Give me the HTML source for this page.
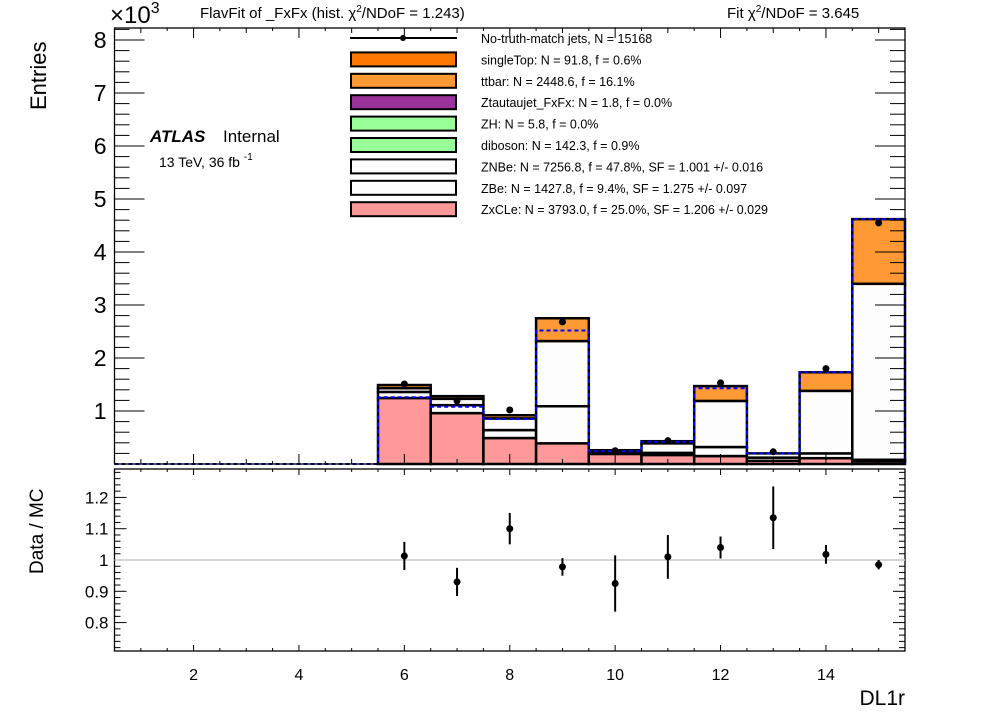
<!DOCTYPE html>
<html><head><meta charset="utf-8"><style>
body{margin:0;background:#fff;}
svg{display:block;font-family:"Liberation Sans",sans-serif;}
</style></head><body>
<svg id="c" width="996" height="722" viewBox="0 0 996 722"></svg>
<script>
const binCenters=[6,7,8,9,10,11,12,13,14,15];
const zxcle=[1245,960,490,390,190,170,150,60,110,50];
const zbe=[115,150,150,700,20,40,170,60,90,30];
const znbe=[70,120,220,1230,30,180,870,80,1180,3320];
const ttbar=[60,50,60,430,20,40,280,0,350,1220];
const prefit=[1260,1080,850,2520,240,420,1430,200,1730,4620];
const dataVals=[1510,1190,1020,2680,250,440,1530,230,1800,4550];
const ratioVals=[1.013,0.93,1.10,0.978,0.925,1.01,1.04,1.135,1.018,0.985];
const ratioErr=[0.045,0.045,0.05,0.028,0.09,0.07,0.035,0.1,0.03,0.015];
const mainTicks=[1,2,3,4,5,6,7,8];
const ratioTicks=[0.8,0.9,1,1.1,1.2];
const xTicks=[2,4,6,8,10,12,14];
const legendLabels=["No-truth-match jets, N = 15168","singleTop: N = 91.8, f = 0.6%","ttbar: N = 2448.6, f = 16.1%","Ztautaujet_FxFx: N = 1.8, f = 0.0%","ZH: N = 5.8, f = 0.0%","diboson: N = 142.3, f = 0.9%","ZNBe: N = 7256.8, f = 47.8%, SF = 1.001 +/- 0.016","ZBe: N = 1427.8, f = 9.4%, SF = 1.275 +/- 0.097","ZxCLe: N = 3793.0, f = 25.0%, SF = 1.206 +/- 0.029"];
const legendColors=[null,"#ff7700","#ff9933","#993399","#99ff99","#99ff99","#fdfdfd","#fdfdfd","#ff9999"];

const NS="http://www.w3.org/2000/svg";
const svg=document.getElementById('c');
const L=114.5,R=905,MT=28,MB=464,RT=469,RB=651;
const X=v=>L+(v-0.5)*(R-L)/15;
const Y=v=>MB-v*53/1000;
const YR=v=>560-(v-1)*313;
function el(t,a,p){const e=document.createElementNS(NS,t);for(const k in a)e.setAttribute(k,a[k]);(p||svg).appendChild(e);return e;}
function tx(x,y,s,o){const e=el('text',Object.assign({x:x,y:y},o||{}));e.textContent=s;return e;}

// stacked histograms
const gH=el('g',{});


const comps=[[zxcle,"#ff9999","zxcle"],[zbe,"#fdfdfd","zbe"],[znbe,"#fdfdfd","znbe"],[ttbar,"#ff9933","ttbar"]];
binCenters.forEach((c,i)=>{
  let base=0;
  comps.forEach(([arr,col,nm])=>{
    const top=base+arr[i];
    const r=el('rect',{x:X(c-0.5),y:Y(top),width:X(c+0.5)-X(c-0.5),height:Y(base)-Y(top),fill:col,stroke:'#000','stroke-width':2.5},gH);
    
    
    base=top;
  });
});
// prefit dashed outline
let d='M'+X(0.5)+' '+MB+' L'+X(5.5)+' '+MB;
binCenters.forEach((c,i)=>{d+=' L'+X(c-0.5)+' '+Y(prefit[i])+' L'+X(c+0.5)+' '+Y(prefit[i]);});
d+=' L'+X(15.5)+' '+MB;
const pf=el('path',{d:d,fill:'none',stroke:'#0000ff','stroke-width':2,'stroke-dasharray':'4,3'});


// data points
binCenters.forEach((c,i)=>{
  const p=el('circle',{cx:X(c),cy:Y(dataVals[i]),r:3.5,fill:'#000'});
  
  
});
// frames
el('rect',{x:L,y:MT,width:R-L,height:MB-MT,fill:'none',stroke:'#000','stroke-width':1.3});
el('rect',{x:L,y:RT,width:R-L,height:RB-RT,fill:'none',stroke:'#000','stroke-width':1.3});
// main y ticks
for(let v=200;v<=8200;v+=200){const maj=v%1000===0;const len=maj?30:15;
  el('line',{x1:L,x2:L+len,y1:Y(v),y2:Y(v),stroke:'#000'});
  el('line',{x1:R,x2:R-len,y1:Y(v),y2:Y(v),stroke:'#000'});}
mainTicks.forEach(v=>{const t=tx(L-8,Y(v*1000)+8,String(v),{'font-size':23,'text-anchor':'end'});});
// x ticks both panels
for(let v=1;v<=15.01;v+=0.5){const maj=Number.isInteger(v/2)&&v%2===0;const lenM=maj?10:(Number.isInteger(v)?5:3);
  const lenR=maj?6:3;
  el('line',{x1:X(v),x2:X(v),y1:MB,y2:MB-lenM,stroke:'#000'});
  el('line',{x1:X(v),x2:X(v),y1:MT,y2:MT+lenM,stroke:'#000'});
  el('line',{x1:X(v),x2:X(v),y1:RB,y2:RB-lenR,stroke:'#000'});
  el('line',{x1:X(v),x2:X(v),y1:RT,y2:RT+lenR,stroke:'#000'});}
xTicks.forEach(v=>{const t=tx(X(v),680,String(v),{'font-size':16,'text-anchor':'middle'});});
// ratio ticks
for(let k=0;k<=11;k++){const v=0.72+k*0.05;const vv=Math.round(v*100)/100;}
for(let v=0.72;v<=1.29;v+=0.02){const vv=Math.round(v*100)/100;const maj=Math.abs(vv*10-Math.round(vv*10))<1e-6;const len=maj?12:6;
  el('line',{x1:L,x2:L+len,y1:YR(vv),y2:YR(vv),stroke:'#000'});
  el('line',{x1:R,x2:R-len,y1:YR(vv),y2:YR(vv),stroke:'#000'});}
ratioTicks.forEach(v=>{const t=tx(L-6,YR(v)+6,String(v),{'font-size':17,'text-anchor':'end'});});
const ul=el('line',{x1:L,x2:R,y1:YR(1),y2:YR(1),stroke:'#c8c8c8','stroke-width':1.5});


binCenters.forEach((c,i)=>{
  const e=el('line',{x1:X(c),x2:X(c),y1:YR(ratioVals[i]+ratioErr[i]),y2:YR(ratioVals[i]-ratioErr[i]),stroke:'#000','stroke-width':2});
  
  
  const p=el('circle',{cx:X(c),cy:YR(ratioVals[i]),r:3.5,fill:'#000'});
  
  
});
// legend
legendLabels.forEach((lab,i)=>{
  const y=38+i*21.4;
  if(i===0){el('line',{x1:350,x2:457,y1:y,y2:y,stroke:'#000','stroke-width':2});el('circle',{cx:403,cy:y,r:3,fill:'#000'});}
  else el('rect',{x:351,y:y-7,width:105,height:14,fill:legendColors[i],stroke:'#000','stroke-width':2});
  const t=tx(481,y+5,lab,{'font-size':12.5});
  
  
});
</script>
<svg width="996" height="722" style="position:absolute;left:0;top:0">
<g font-family="Liberation Sans, sans-serif">
<text x="110" y="23" font-size="24">×10<tspan font-size="16" dy="-10">3</tspan></text>
<text x="200" y="18" font-size="15">FlavFit of _FxFx (hist.   χ<tspan font-size="10" dy="-6">2</tspan><tspan dy="6">/NDoF = 1.243)</tspan></text>
<text x="727" y="18" font-size="15">Fit  χ<tspan font-size="10" dy="-6">2</tspan><tspan dy="6">/NDoF = 3.645</tspan></text>
<text x="46" y="108" font-size="22" transform="rotate(-90 46 108)" text-anchor="start" dx="-2">Entries</text>
<text x="43" y="574" font-size="19" transform="rotate(-90 43 574)">Data / MC</text>
<text x="905" y="705" font-size="21" text-anchor="end">DL1r</text>
<text x="150" y="142" font-size="17" font-weight="bold" font-style="italic">ATLAS</text>
<text x="223" y="142" font-size="17">Internal</text>
<text x="159" y="167" font-size="14">13 TeV,  36 fb <tspan font-size="10" dy="-7">-1</tspan></text>
</g></svg>
</body></html>
